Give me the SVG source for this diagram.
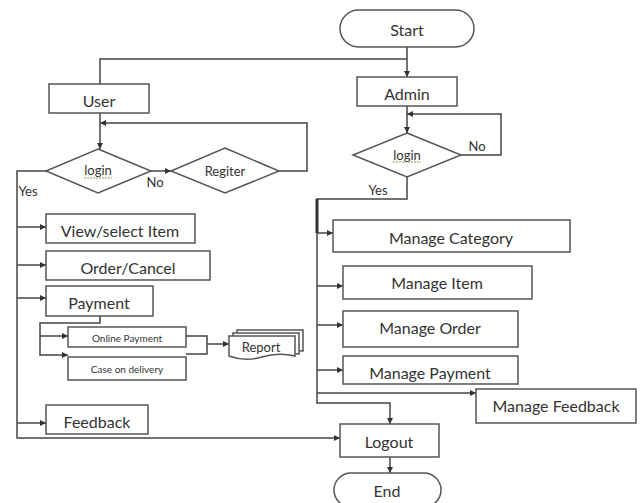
<svg xmlns="http://www.w3.org/2000/svg" width="644" height="503" viewBox="0 0 644 503">
<style>
.box{fill:#fff;stroke:#555;stroke-width:1.5}
.ln{fill:none;stroke:#444;stroke-width:1.5}
.t{font-family:Lato,"Liberation Sans",sans-serif;fill:#333;text-anchor:middle;dominant-baseline:central}
.l{font-size:16px}
.s{font-size:10px}
.m{font-size:13px}
.sq{stroke:#8a9a5a;stroke-width:1;fill:none}
</style>
<defs>
<marker id="a" viewBox="0 0 10 10" refX="10" refY="5" markerWidth="6" markerHeight="6" markerUnits="userSpaceOnUse" orient="auto">
<path d="M0,0 L10,5 L0,10 z" fill="#333"/>
</marker>
</defs>
<rect width="644" height="503" fill="#fff"/>
<g id="connectors">
<path class="ln" d="M407,47 V77" marker-end="url(#a)"/>
<path class="ln" d="M407,59 H100 V84"/>
<path class="ln" d="M100,113 V149" marker-end="url(#a)"/>
<path class="ln" d="M151,171 H171" marker-end="url(#a)"/>
<path class="ln" d="M279,171 H307 V123 H100" marker-end="url(#a)"/>
<path class="ln" d="M46,171 H17 V438 H340" marker-end="url(#a)"/>
<path class="ln" d="M17,227 H46" marker-end="url(#a)"/>
<path class="ln" d="M17,265 H46" marker-end="url(#a)"/>
<path class="ln" d="M17,298 H46" marker-end="url(#a)"/>
<path class="ln" d="M17,423 H46" marker-end="url(#a)"/>
<path class="ln" d="M100,316 V323 H40 V355 H68" marker-end="url(#a)"/>
<path class="ln" d="M40,336 H68" marker-end="url(#a)"/>
<path class="ln" d="M186,336 H207 V354 H186"/>
<path class="ln" d="M207,344 H229" marker-end="url(#a)"/>
<path class="ln" d="M407,106 V133" marker-end="url(#a)"/>
<path class="ln" d="M461,155 H501 V114 H407" marker-end="url(#a)"/>
<path class="ln" d="M407,177 V199 H317 V403 H390 V424" marker-end="url(#a)"/>
<path fill="none" stroke="#333" stroke-width="3" d="M317,199 V233"/>
<path class="ln" d="M317,233 H333" marker-end="url(#a)"/>
<path class="ln" d="M317,286 H343" marker-end="url(#a)"/>
<path class="ln" d="M317,325 H343" marker-end="url(#a)"/>
<path class="ln" d="M317,370 H343" marker-end="url(#a)"/>
<path class="ln" d="M317,393 H476" marker-end="url(#a)"/>
<path class="ln" d="M390,457 V473" marker-end="url(#a)"/>
<text class="t m" x="155" y="182">No</text>
<text class="t m" x="28" y="191">Yes</text>
<text class="t m" x="477" y="146">No</text>
<text class="t m" x="378" y="190">Yes</text>
</g>
<g id="start">
<rect class="box" x="340" y="10" width="134" height="37" rx="18.5"/>
<text class="t l" x="407" y="29">Start</text>
</g>
<g id="user">
<rect class="box" x="49" y="84" width="100" height="29"/>
<text class="t l" x="99" y="100">User</text>
</g>
<g id="admin">
<rect class="box" x="357" y="77" width="100" height="29"/>
<text class="t l" x="407" y="93">Admin</text>
</g>
<g id="user-login">
<polygon class="box" points="98,149 151,171 98,193 46,171"/>
<text class="t m" x="98" y="170">login</text>
<path class="sq" d="M84,178 h28" stroke-dasharray="2,1"/>
</g>
<g id="register">
<polygon class="box" points="225,148 279,171 225,193 171,171"/>
<text class="t m" x="225" y="171">Regiter</text>
</g>
<g id="admin-login">
<polygon class="box" points="407,133 461,155 407,177 353,155"/>
<text class="t m" x="407" y="155">login</text>
<path class="sq" d="M393,162 h28" stroke-dasharray="2,1"/>
</g>
<g id="view-select-item">
<rect class="box" x="46" y="214" width="149" height="29"/>
<text class="t l" x="120" y="230">View/select Item</text>
</g>
<g id="order-cancel">
<rect class="box" x="46" y="251" width="164" height="29"/>
<text class="t l" x="128" y="267">Order/Cancel</text>
</g>
<g id="payment">
<rect class="box" x="46" y="286" width="107" height="30"/>
<text class="t l" x="99" y="302">Payment</text>
</g>
<g id="online-payment">
<rect class="box" x="68" y="327" width="118" height="20"/>
<text class="t s" x="127" y="338">Online Payment</text>
</g>
<g id="case-on-delivery">
<rect class="box" x="68" y="357" width="118" height="23"/>
<text class="t s" x="127" y="369">Case on delivery</text>
</g>
<g id="report">
<path class="box" d="M237,330 H303 V351 Q298,350 295,352 V336 H237 Z"/>
<path class="box" d="M233,333 H299 V354 Q295,353 291,355 V339 H233 Z"/>
<path class="box" d="M229,336 H295 V356 Q278,352 262,357 Q245,362 229,356 Z"/>
<text class="t m" x="261" y="347">Report</text>
</g>
<g id="feedback">
<rect class="box" x="46" y="405" width="102" height="29"/>
<text class="t l" x="97" y="421">Feedback</text>
</g>
<g id="manage-category">
<rect class="box" x="333" y="220" width="237" height="32"/>
<text class="t l" x="451" y="237">Manage Category</text>
</g>
<g id="manage-item">
<rect class="box" x="343" y="266" width="189" height="33"/>
<text class="t l" x="437" y="282">Manage Item</text>
</g>
<g id="manage-order">
<rect class="box" x="343" y="311" width="175" height="36"/>
<text class="t l" x="430" y="327">Manage Order</text>
</g>
<g id="manage-payment">
<rect class="box" x="343" y="356" width="175" height="28"/>
<text class="t l" x="430" y="372">Manage Payment</text>
</g>
<g id="manage-feedback">
<rect class="box" x="476" y="389" width="160" height="34"/>
<text class="t l" x="556" y="405">Manage Feedback</text>
</g>
<g id="logout">
<rect class="box" x="340" y="424" width="99" height="33"/>
<text class="t l" x="389" y="441">Logout</text>
</g>
<g id="end">
<rect class="box" x="334" y="473" width="107" height="34" rx="17"/>
<text class="t l" x="387" y="490">End</text>
</g>
</svg>
